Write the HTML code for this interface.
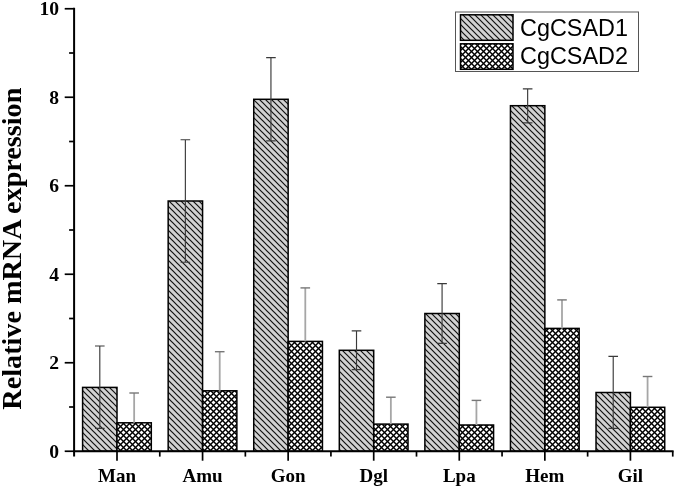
<!DOCTYPE html><html><head><meta charset="utf-8"><style>html,body{margin:0;padding:0;background:#fff;}svg{display:block;will-change:transform;}</style></head><body>
<svg width="675" height="487" viewBox="0 0 675 487">
<defs>
<pattern id="p1" patternUnits="userSpaceOnUse" x="4" y="0" width="6" height="6"><rect width="6" height="6" fill="#d2d2d2"/><path d="M-1,-1L7,7M-1,5L1,7M5,-1L7,1" stroke="#111" stroke-width="1.2"/></pattern>
<pattern id="p2" patternUnits="userSpaceOnUse" x="0" y="0" width="6" height="6"><rect width="6" height="6" fill="#000"/><path d="M1.5,0.5L3.5,-1.5L5.5,0.5L3.5,2.5ZM-1.5,3.5L0.5,1.5L2.5,3.5L0.5,5.5ZM4.5,3.5L6.5,1.5L8.5,3.5L6.5,5.5ZM1.5,6.5L3.5,4.5L5.5,6.5L3.5,8.5Z" fill="#fff"/></pattern>
</defs>
<rect x="82.6" y="387.4" width="34.4" height="63.85" fill="url(#p1)" stroke="#000" stroke-width="1.5"/>
<rect x="117" y="422.8" width="34.3" height="28.45" fill="url(#p2)" stroke="#000" stroke-width="1.5"/>
<rect x="168.17" y="201" width="34.4" height="250.25" fill="url(#p1)" stroke="#000" stroke-width="1.5"/>
<rect x="202.57" y="390.8" width="34.3" height="60.45" fill="url(#p2)" stroke="#000" stroke-width="1.5"/>
<rect x="253.74" y="99.3" width="34.4" height="351.95" fill="url(#p1)" stroke="#000" stroke-width="1.5"/>
<rect x="288.14" y="341.4" width="34.3" height="109.85" fill="url(#p2)" stroke="#000" stroke-width="1.5"/>
<rect x="339.31" y="350.3" width="34.4" height="100.95" fill="url(#p1)" stroke="#000" stroke-width="1.5"/>
<rect x="373.71" y="424.1" width="34.3" height="27.15" fill="url(#p2)" stroke="#000" stroke-width="1.5"/>
<rect x="424.88" y="313.5" width="34.4" height="137.75" fill="url(#p1)" stroke="#000" stroke-width="1.5"/>
<rect x="459.28" y="425" width="34.3" height="26.25" fill="url(#p2)" stroke="#000" stroke-width="1.5"/>
<rect x="510.45" y="105.7" width="34.4" height="345.55" fill="url(#p1)" stroke="#000" stroke-width="1.5"/>
<rect x="544.85" y="328.4" width="34.3" height="122.85" fill="url(#p2)" stroke="#000" stroke-width="1.5"/>
<rect x="596.02" y="392.5" width="34.4" height="58.75" fill="url(#p1)" stroke="#000" stroke-width="1.5"/>
<rect x="630.42" y="407.3" width="34.3" height="43.95" fill="url(#p2)" stroke="#000" stroke-width="1.5"/>
<path d="M99.8,346V428.3M95,346H104.6M95,428.3H104.6" stroke="#3a3a3a" stroke-width="1.15" fill="none"/>
<path d="M134.15,393V422.8" stroke="#a6a6a6" stroke-width="1.8" fill="none"/>
<path d="M129.35,393H138.95" stroke="#777" stroke-width="1.4" fill="none"/>
<path d="M185.37,139.75V262.2M180.57,139.75H190.17M180.57,262.2H190.17" stroke="#3a3a3a" stroke-width="1.15" fill="none"/>
<path d="M219.72,351.7V390.8" stroke="#a6a6a6" stroke-width="1.8" fill="none"/>
<path d="M214.92,351.7H224.52" stroke="#777" stroke-width="1.4" fill="none"/>
<path d="M270.94,57.6V140.8M266.14,57.6H275.74M266.14,140.8H275.74" stroke="#3a3a3a" stroke-width="1.15" fill="none"/>
<path d="M305.29,287.9V341.4" stroke="#a6a6a6" stroke-width="1.8" fill="none"/>
<path d="M300.49,287.9H310.09" stroke="#777" stroke-width="1.4" fill="none"/>
<path d="M356.51,330.9V369.6M351.71,330.9H361.31M351.71,369.6H361.31" stroke="#3a3a3a" stroke-width="1.15" fill="none"/>
<path d="M390.86,397.2V424.1" stroke="#a6a6a6" stroke-width="1.8" fill="none"/>
<path d="M386.06,397.2H395.66" stroke="#777" stroke-width="1.4" fill="none"/>
<path d="M442.08,283.6V343.4M437.28,283.6H446.88M437.28,343.4H446.88" stroke="#3a3a3a" stroke-width="1.15" fill="none"/>
<path d="M476.43,400.4V425" stroke="#a6a6a6" stroke-width="1.8" fill="none"/>
<path d="M471.63,400.4H481.23" stroke="#777" stroke-width="1.4" fill="none"/>
<path d="M527.65,88.9V122.9M522.85,88.9H532.45M522.85,122.9H532.45" stroke="#3a3a3a" stroke-width="1.15" fill="none"/>
<path d="M562,299.9V328.4" stroke="#a6a6a6" stroke-width="1.8" fill="none"/>
<path d="M557.2,299.9H566.8" stroke="#777" stroke-width="1.4" fill="none"/>
<path d="M613.22,356.4V428.3M608.42,356.4H618.02M608.42,428.3H618.02" stroke="#3a3a3a" stroke-width="1.15" fill="none"/>
<path d="M647.57,376.5V407.3" stroke="#a6a6a6" stroke-width="1.8" fill="none"/>
<path d="M642.77,376.5H652.37" stroke="#777" stroke-width="1.4" fill="none"/>
<path d="M74.1,7.8V456.6" stroke="#000" stroke-width="2" fill="none"/>
<path d="M73.1,451.25H673.6" stroke="#000" stroke-width="1.8" fill="none"/>
<path d="M64.7,451.25H74.1" stroke="#000" stroke-width="1.7" fill="none"/>
<path d="M69.1,407H74.1" stroke="#000" stroke-width="1.7" fill="none"/>
<path d="M64.7,362.75H74.1" stroke="#000" stroke-width="1.7" fill="none"/>
<path d="M69.1,318.5H74.1" stroke="#000" stroke-width="1.7" fill="none"/>
<path d="M64.7,274.25H74.1" stroke="#000" stroke-width="1.7" fill="none"/>
<path d="M69.1,230H74.1" stroke="#000" stroke-width="1.7" fill="none"/>
<path d="M64.7,185.75H74.1" stroke="#000" stroke-width="1.7" fill="none"/>
<path d="M69.1,141.5H74.1" stroke="#000" stroke-width="1.7" fill="none"/>
<path d="M64.7,97.25H74.1" stroke="#000" stroke-width="1.7" fill="none"/>
<path d="M69.1,53H74.1" stroke="#000" stroke-width="1.7" fill="none"/>
<path d="M64.7,8.75H74.1" stroke="#000" stroke-width="1.7" fill="none"/>
<path d="M117,451.25V460.7" stroke="#000" stroke-width="1.7" fill="none"/>
<path d="M202.57,451.25V460.7" stroke="#000" stroke-width="1.7" fill="none"/>
<path d="M288.14,451.25V460.7" stroke="#000" stroke-width="1.7" fill="none"/>
<path d="M373.71,451.25V460.7" stroke="#000" stroke-width="1.7" fill="none"/>
<path d="M459.28,451.25V460.7" stroke="#000" stroke-width="1.7" fill="none"/>
<path d="M544.85,451.25V460.7" stroke="#000" stroke-width="1.7" fill="none"/>
<path d="M630.42,451.25V460.7" stroke="#000" stroke-width="1.7" fill="none"/>
<path d="M159.78,451.25V456.6" stroke="#000" stroke-width="1.7" fill="none"/>
<path d="M245.35,451.25V456.6" stroke="#000" stroke-width="1.7" fill="none"/>
<path d="M330.92,451.25V456.6" stroke="#000" stroke-width="1.7" fill="none"/>
<path d="M416.5,451.25V456.6" stroke="#000" stroke-width="1.7" fill="none"/>
<path d="M502.06,451.25V456.6" stroke="#000" stroke-width="1.7" fill="none"/>
<path d="M587.63,451.25V456.6" stroke="#000" stroke-width="1.7" fill="none"/>
<path d="M672.75,451.25V456.6" stroke="#000" stroke-width="1.7" fill="none"/>
<text x="59" y="457.65" text-anchor="end" font-family="Liberation Serif" font-weight="bold" font-size="19.6">0</text>
<text x="59" y="369.15" text-anchor="end" font-family="Liberation Serif" font-weight="bold" font-size="19.6">2</text>
<text x="59" y="280.65" text-anchor="end" font-family="Liberation Serif" font-weight="bold" font-size="19.6">4</text>
<text x="59" y="192.15" text-anchor="end" font-family="Liberation Serif" font-weight="bold" font-size="19.6">6</text>
<text x="59" y="103.65" text-anchor="end" font-family="Liberation Serif" font-weight="bold" font-size="19.6">8</text>
<text x="59" y="15.15" text-anchor="end" font-family="Liberation Serif" font-weight="bold" font-size="19.6">10</text>
<text x="117" y="481.6" text-anchor="middle" font-family="Liberation Serif" font-weight="bold" font-size="19">Man</text>
<text x="202.57" y="481.6" text-anchor="middle" font-family="Liberation Serif" font-weight="bold" font-size="19">Amu</text>
<text x="288.14" y="481.6" text-anchor="middle" font-family="Liberation Serif" font-weight="bold" font-size="19">Gon</text>
<text x="373.71" y="481.6" text-anchor="middle" font-family="Liberation Serif" font-weight="bold" font-size="19">Dgl</text>
<text x="459.28" y="481.6" text-anchor="middle" font-family="Liberation Serif" font-weight="bold" font-size="19">Lpa</text>
<text x="544.85" y="481.6" text-anchor="middle" font-family="Liberation Serif" font-weight="bold" font-size="19">Hem</text>
<text x="630.42" y="481.6" text-anchor="middle" font-family="Liberation Serif" font-weight="bold" font-size="19">Gil</text>
<text transform="translate(20.8,248.65) rotate(-90)" text-anchor="middle" font-family="Liberation Serif" font-weight="bold" font-size="28.2">Relative mRNA expression</text>
<rect x="455.5" y="12" width="183" height="59.5" fill="#fff" stroke="#555" stroke-width="1"/>
<rect x="460.5" y="14.8" width="52.5" height="25.5" fill="url(#p1)" stroke="#000" stroke-width="1.5"/>
<rect x="460.5" y="43.8" width="52.5" height="25.5" fill="url(#p2)" stroke="#000" stroke-width="1.5"/>
<text x="520" y="35.8" font-family="Liberation Sans" font-size="23.4">CgCSAD1</text>
<text x="520" y="64.4" font-family="Liberation Sans" font-size="23.4">CgCSAD2</text>
</svg></body></html>
